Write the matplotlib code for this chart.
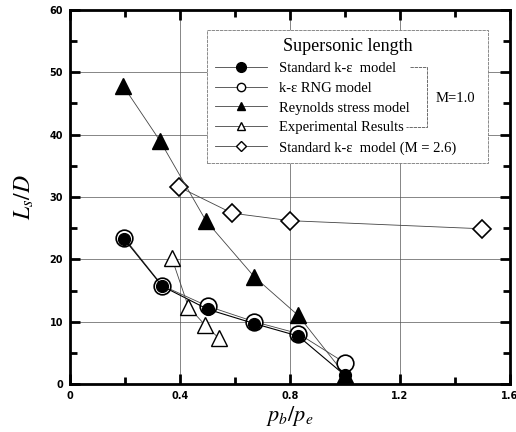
import numpy as np
import matplotlib
matplotlib.use('Agg')
import matplotlib.pyplot as plt
from matplotlib.lines import Line2D

# Data (p_b/p_e vs L_s/D)
x_std = [0.196, 0.335, 0.50, 0.67, 0.83, 1.0]
y_std = [23.3, 15.7, 12.0, 9.7, 7.7, 1.4]

x_rng = [0.196, 0.335, 0.50, 0.67, 0.83, 1.0]
y_rng = [23.5, 15.8, 12.5, 10.0, 8.1, 3.4]

x_rsm = [0.193, 0.327, 0.494, 0.67, 0.83, 1.0]
y_rsm = [47.8, 39.0, 26.2, 17.2, 11.0, 1.5]

x_exp = [0.37, 0.43, 0.49, 0.54]
y_exp = [20.2, 12.4, 9.5, 7.4]

x_m26 = [0.396, 0.59, 0.80, 1.50]
y_m26 = [31.6, 27.4, 26.2, 24.9]

labels = ['Standard k-\u03b5  model', 'k-\u03b5 RNG model', 'Reynolds stress model',
          'Experimental Results', 'Standard k-\u03b5  model (M = 2.6)']

serif = ['Liberation Serif', 'DejaVu Serif']
plt.rcParams['mathtext.fontset'] = 'stix'

fig = plt.figure(figsize=(5.16, 4.32), dpi=100)
ax = fig.add_axes([0.136, 0.111, 0.852, 0.866])

lc = '#444444'
ax.plot(x_m26, y_m26, color=lc, lw=0.6, marker='D', ms=9, mfc='white', mec='black', mew=1.2, zorder=3)
ax.plot(x_rsm, y_rsm, color=lc, lw=0.6, marker='^', ms=12, mfc='black', mec='black', zorder=3)
ax.plot(x_rng, y_rng, color=lc, lw=0.6, marker='o', ms=12, mfc='white', mec='black', mew=1.2, zorder=4)
ax.plot(x_std, y_std, color='black', lw=0.8, marker='o', ms=8.5, mfc='black', mec='black', zorder=5)
ax.plot(x_exp, y_exp, color=lc, lw=0.6, marker='^', ms=12, mfc='white', mec='black', mew=1.0, zorder=6)

ax.set_xlim(0, 1.6)
ax.set_ylim(0, 60)
ax.set_xticks([0, 0.4, 0.8, 1.2, 1.6])
ax.set_xticklabels(['0', '0.4', '0.8', '1.2', '1.6'])
ax.set_xticks([0.2, 0.6, 1.0, 1.4], minor=True)
ax.set_yticks([0, 10, 20, 30, 40, 50, 60])
ax.set_yticks([5, 15, 25, 35, 45, 55], minor=True)
ax.grid(True, which='major', color='#555555', lw=0.5)
ax.tick_params(which='major', direction='in', length=7, width=2, labelsize=7, pad=5,
               top=True, right=True)
ax.tick_params(which='minor', direction='in', length=5, width=2, top=True, right=True)
for t in ax.get_xticklabels() + ax.get_yticklabels():
    t.set_fontweight('bold')
for s in ax.spines.values():
    s.set_linewidth(2)

ax.set_xlabel(r'$p_b/p_e$', fontsize=16, labelpad=2)
ax.set_ylabel(r'$L_s/D$', fontsize=17, labelpad=10)

handles = [
    Line2D([], [], color=lc, lw=0.6, marker='o', ms=7, mfc='black', mec='black'),
    Line2D([], [], color=lc, lw=0.6, marker='o', ms=6, mfc='white', mec='black'),
    Line2D([], [], color=lc, lw=0.6, marker='^', ms=6, mfc='black', mec='black'),
    Line2D([], [], color=lc, lw=0.6, marker='^', ms=6, mfc='white', mec='black'),
    Line2D([], [], color=lc, lw=0.6, marker='D', ms=5, mfc='white', mec='black'),
]
leg = ax.legend(handles, labels, loc='upper left',
                bbox_to_anchor=(0.311, 0.591, 0.639, 0.356), mode='expand',
                prop={'family': serif, 'size': 10.5}, title='Supersonic length',
                title_fontproperties={'family': serif, 'size': 13},
                handlelength=3.6, handletextpad=0.8, labelspacing=0.46,
                borderpad=0.55, borderaxespad=0, fancybox=False, framealpha=1,
                edgecolor='#777777')
leg.get_frame().set_linewidth(0.6)
leg.get_frame().set_linestyle((0, (4, 1)))
leg.set_zorder(10)

# bracket grouping the M = 1.0 entries
bx = 0.811
ax.plot([0.772, bx, bx, 0.765], [0.848, 0.848, 0.687, 0.687], transform=ax.transAxes,
        color='#555555', lw=0.6, ls=(0, (4, 1)), zorder=11, clip_on=False)
ax.text(0.832, 0.762, 'M=1.0', transform=ax.transAxes, fontsize=10.5, family=serif,
        va='center', ha='left', zorder=11)

fig.savefig('out.png', dpi=100)
